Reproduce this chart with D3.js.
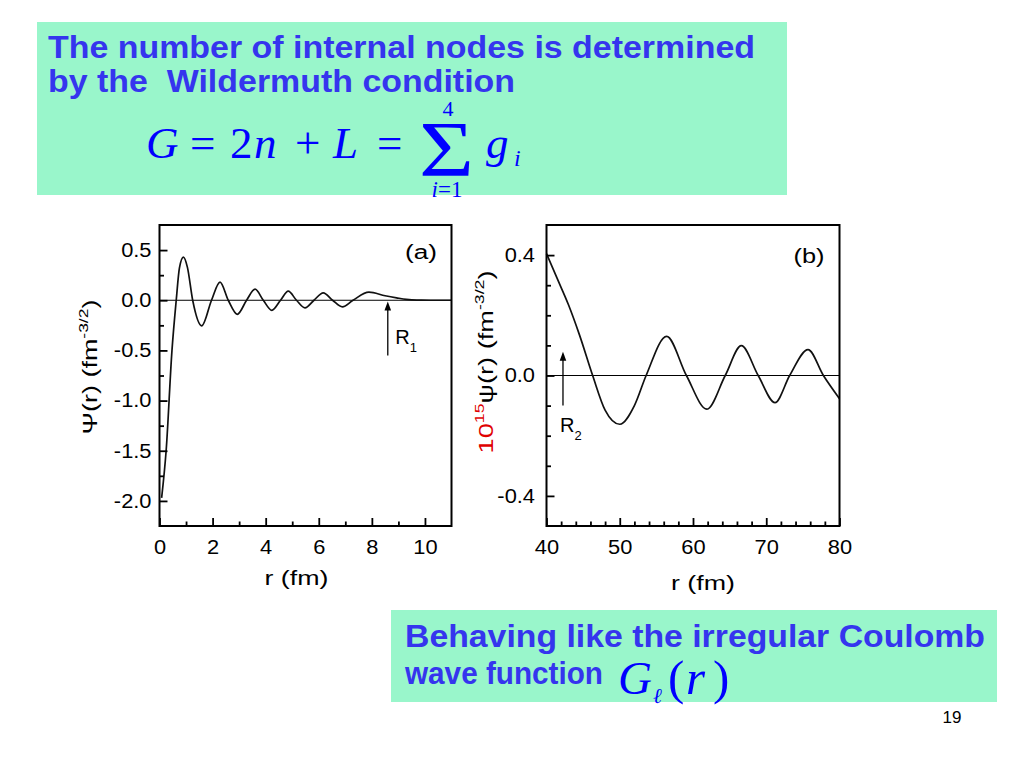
<!DOCTYPE html>
<html><head><meta charset="utf-8">
<script src="https://cdn.jsdelivr.net/npm/d3@7"></script>
<style>
html,body{margin:0;padding:0;background:#fff;}
svg{display:block;}
text{font-family:"Liberation Sans",Arial,sans-serif;}
</style></head><body>
<svg id="c" width="1024" height="768"></svg>
<script>
// ---------------- data ----------------
// panel (a): Psi(r) in fm^-3/2 against r in fm
const aR   = [0.08, 0.25, 0.47, 0.63, 0.75, 0.90, 1.05, 1.25, 1.59, 1.96, 2.28, 2.59, 2.93, 3.28, 3.60, 3.91, 4.23, 4.56, 4.85, 5.16, 5.48, 5.82, 6.17, 6.52, 6.89, 7.29, 7.89, 8.50, 8.93, 9.30, 9.70, 10.2, 11.0];
const aPsi = [-1.97, -1.50, -0.50, 0.00, 0.32, 0.43, 0.33, 0.00, -0.255, 0.00, 0.18, 0.00, -0.14, 0.00, 0.11, 0.00, -0.10, 0.00, 0.09, 0.00, -0.076, 0.00, 0.074, 0.00, -0.066, 0.00, 0.08, 0.045, 0.024, 0.008, 0.001, 0.0, 0.0];
const aXTicks = [0, 2, 4, 6, 8, 10];
const aXMinor = [1, 3, 5, 7, 9];
const aYTicks = [0.5, 0.0, -0.5, -1.0, -1.5, -2.0];
const aYMinor = [0.25, -0.25, -0.75, -1.25, -1.75];
const aArrow = {r: 8.6, from: -0.55, to: -0.012, label: "R", sub: "1"};

// panel (b): 10^15 psi(r) against r in fm
const bR   = [40.0, 41.5, 43.0, 44.5, 46.3, 48.0, 50.0, 52.0, 53.6, 56.4, 59.1, 61.9, 64.4, 66.6, 68.9, 71.2, 73.2, 75.7, 77.8, 80.0];
const bPsi = [0.405, 0.32, 0.235, 0.135, 0.00, -0.115, -0.162, -0.10, 0.00, 0.13, 0.00, -0.112, 0.00, 0.099, 0.00, -0.09, 0.00, 0.086, 0.00, -0.077];
const bXTicks = [40, 50, 60, 70, 80];
const bXMinor = [42, 44, 46, 48, 52, 54, 56, 58, 62, 64, 66, 68, 72, 74, 76, 78];
const bYTicks = [0.4, 0.0, -0.4];
const bYMinor = [0.3, 0.2, 0.1, -0.1, -0.2, -0.3];
const bArrow = {r: 42.25, from: -0.10, to: 0.079, label: "R", sub: "2"};

// ---------------- drawing ----------------
const svg = d3.select("#c");
const TXT = "#3535EE", MATH = "#0000FF", BOX = "#99F6CB";

function fit(sel, w){ sel.attr("textLength", w).attr("lengthAdjust","spacingAndGlyphs"); return sel; }
function stretch(sel, k){
  sel.each(function(){ const w = this.getComputedTextLength();
    this.setAttribute("textLength", w*k); this.setAttribute("lengthAdjust","spacingAndGlyphs"); });
}

// text boxes
svg.append("rect").attr("x",37).attr("y",22).attr("width",750).attr("height",173).attr("fill",BOX);
svg.append("rect").attr("x",391).attr("y",610).attr("width",606).attr("height",92).attr("fill",BOX);

fit(svg.append("text").attr("x",48).attr("y",58).attr("font-size",31).attr("font-weight","bold")
  .attr("fill",TXT).text("The number of internal nodes is determined"), 707);
fit(svg.append("text").attr("x",48).attr("y",92).attr("font-size",31).attr("font-weight","bold")
  .attr("fill",TXT).style("white-space","pre").text("by the  Wildermuth condition"), 467);

// formula G = 2n + L = sum g_i
const serif = '"Liberation Serif","Times New Roman",serif';
function mt(x, y, s, size, italic, anchor){
  return svg.append("text").attr("x",x).attr("y",y).attr("font-size",size)
    .style("font-family",serif).attr("font-style", italic ? "italic" : "normal")
    .attr("text-anchor", anchor || "start").attr("fill",MATH).text(s);
}
mt(146,158,"G",45,true);
mt(190,158,"=",45,false);
mt(230,158,"2",45,false);
mt(254,158,"n",45,true);
mt(295,158,"+",45,false);
mt(333,158,"L",45,true);
mt(377,158,"=",45,false);
fit(mt(419,175,"\u03A3",78,false), 55);
mt(448,116,"4",22,false,"middle");
const lim = svg.append("text").attr("x",447).attr("y",197).attr("font-size",23).attr("text-anchor","middle")
  .style("font-family",serif).attr("fill",MATH);
lim.append("tspan").attr("font-style","italic").text("i");
lim.append("tspan").text("=1");
mt(486,158,"g",45,true);
mt(514,166,"i",24,true);

// bottom box
fit(svg.append("text").attr("x",405).attr("y",647).attr("font-size",31).attr("font-weight","bold")
  .attr("fill",TXT).text("Behaving like the irregular Coulomb"), 580);
fit(svg.append("text").attr("x",405).attr("y",684).attr("font-size",31).attr("font-weight","bold")
  .attr("fill",TXT).text("wave function"), 198);
mt(618,694,"G",47,true);
mt(653,703,"\u2113",21,true);
mt(668,694,"(",49,false);
mt(686,694,"r",49,true);
mt(713,694,")",49,false);

// page number
svg.append("text").attr("x",952).attr("y",723).attr("font-size",17).attr("text-anchor","middle")
  .attr("fill","#000").text("19");

// generic panel
function panel(o){
  const x = d3.scaleLinear().domain(o.xDomain).range([o.left, o.right]);
  const y = d3.scaleLinear().domain(o.yDomain).range([o.bottom, o.top]);
  const g = svg.append("g");
  // zero line
  g.append("line").attr("x1",o.left).attr("x2",o.right).attr("y1",y(0)).attr("y2",y(0))
    .attr("stroke","#000").attr("stroke-width",1);
  // curve
  const line = d3.line().x(i => x(o.rs[i])).y(i => y(o.vs[i])).curve(d3.curveMonotoneX);
  g.append("path").attr("d", line(d3.range(o.rs.length))).attr("fill","none")
    .attr("stroke","#111").attr("stroke-width",1.7).attr("stroke-linejoin","round");
  // axes
  const fmt = d => (Math.abs(d) < 1e-9 ? 0 : d).toFixed(o.yDigits);
  const xa = g.append("g").attr("transform",`translate(0,${o.bottom})`)
    .call(d3.axisBottom(x).tickValues(o.xTicks).tickSize(-8).tickPadding(14).tickFormat(d => String(d)));
  const xm = g.append("g").attr("transform",`translate(0,${o.bottom})`)
    .call(d3.axisBottom(x).tickValues(o.xMinor).tickSize(-4.5).tickFormat(""));
  const ya = g.append("g").attr("transform",`translate(${o.left},0)`)
    .call(d3.axisLeft(y).tickValues(o.yTicks).tickSize(-8).tickPadding(o.yPad).tickFormat(fmt));
  const ym = g.append("g").attr("transform",`translate(${o.left},0)`)
    .call(d3.axisLeft(y).tickValues(o.yMinor).tickSize(-4.5).tickFormat(""));
  [xa,xm,ya,ym].forEach(a => { a.select(".domain").remove();
    a.selectAll("line").attr("stroke","#000").attr("stroke-width",1.8);
    a.selectAll("text").attr("fill","#000").attr("font-size",19.5).attr("font-weight","normal")
      .style("font-family",'"Liberation Sans",Arial,sans-serif');
  });
  stretch(xa.selectAll("text"), 1.12);
  stretch(ya.selectAll("text"), 1.12);
  // frame
  g.append("rect").attr("x",o.left).attr("y",o.top).attr("width",o.right-o.left).attr("height",o.bottom-o.top)
    .attr("fill","none").attr("stroke","#000").attr("stroke-width",2);
  // arrow
  const ax = x(o.arrow.r), ay1 = y(o.arrow.from), ay2 = y(o.arrow.to);
  g.append("line").attr("x1",ax).attr("x2",ax).attr("y1",ay1).attr("y2",ay2+6)
    .attr("stroke","#000").attr("stroke-width",1.3);
  g.append("path").attr("d",`M${ax},${ay2} L${ax-3.3},${ay2+9} L${ax+3.3},${ay2+9} Z`).attr("fill","#000");
  const lt = g.append("text").attr("x",ax+o.labDx).attr("y",ay1+o.labDy).attr("font-size",20).attr("fill","#000");
  lt.append("tspan").text(o.arrow.label);
  lt.append("tspan").attr("font-size",13).attr("dy",8).text(o.arrow.sub);
  // panel tag
  fit(g.append("text").attr("x",o.tagX).attr("y",o.tagY).attr("font-size",19.5).attr("text-anchor","middle")
    .attr("fill","#000").text(o.tag), o.tagW);
  // x title
  fit(g.append("text").attr("x",o.xtX).attr("y",o.xtY).attr("font-size",21).attr("text-anchor","middle")
    .attr("fill","#000").text("r (fm)"), 64);
  // y title
  const yt = g.append("text").attr("font-size",20).attr("text-anchor","middle").attr("fill","#000");
  o.ytParts.forEach(p => {
    const t = yt.append("tspan").text(p.s);
    if (p.sup) t.attr("font-size",13).attr("dy",-9);
    if (p.after) t.attr("dy",9);
    if (p.red) t.attr("fill","#E00000");
  });
  const bw = yt.node().getBBox().width;
  yt.attr("transform",`translate(${o.ytX},${o.ytY}) rotate(-90) scale(${o.ytW/bw},1)`);
}

panel({left:159.5, right:451.5, top:225, bottom:526, xDomain:[0,11], yDomain:[-2.25,0.75],
  rs:aR, vs:aPsi, xTicks:aXTicks, xMinor:aXMinor, yTicks:aYTicks, yMinor:aYMinor, yDigits:1, yPad:8,
  arrow:aArrow, labDx:7.5, labDy:-11.5, tag:"(a)", tagX:421, tagY:259, tagW:32,
  xtX:296.5, xtY:585, ytX:97, ytY:367, ytW:135,
  ytParts:[{s:"\u03A8(r) (fm"},{s:"-3/2",sup:true},{s:")",after:true}]});

panel({left:546.5, right:839.5, top:225, bottom:526, xDomain:[40,80], yDomain:[-0.5,0.5],
  rs:bR, vs:bPsi, xTicks:bXTicks, xMinor:bXMinor, yTicks:bYTicks, yMinor:bYMinor, yDigits:1, yPad:11.5,
  arrow:bArrow, labDx:-3, labDy:26, tag:"(b)", tagX:809, tagY:263, tagW:31,
  xtX:703, xtY:590, ytX:493, ytY:362, ytW:183,
  ytParts:[{s:"10",red:true},{s:"15",sup:true,red:true},{s:"\u03C8(r) (fm",after:true},{s:"-3/2",sup:true},{s:")",after:true}]});
</script>
</body></html>
